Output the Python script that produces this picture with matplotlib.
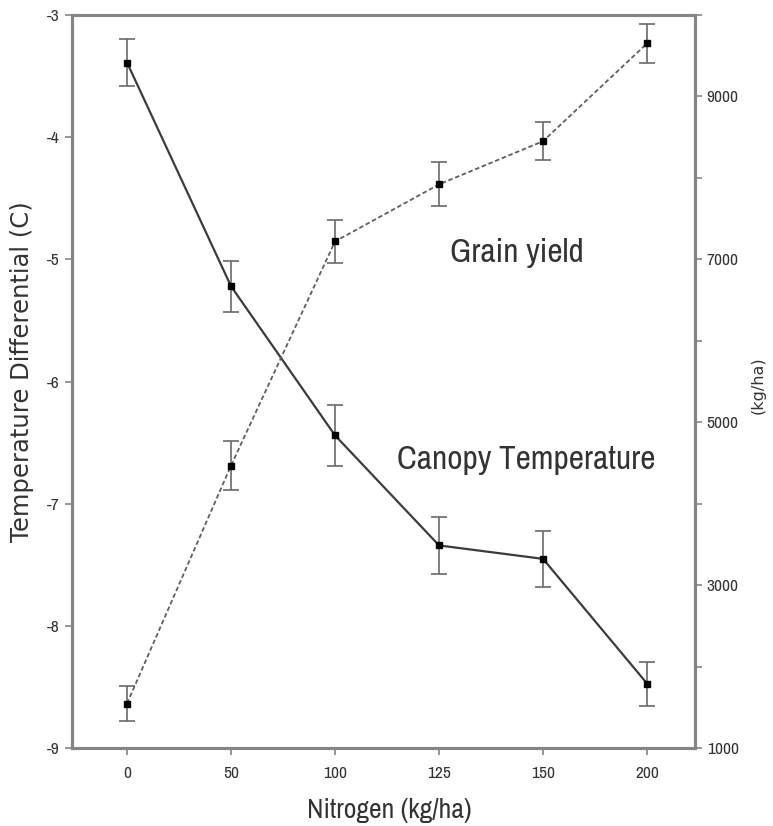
import matplotlib
matplotlib.use("Agg")
import matplotlib.pyplot as plt

plt.rcParams["font.family"] = ["Archivo Narrow", "DejaVu Sans"]
plt.rcParams["axes.unicode_minus"] = False

# data
nitrogen = ["0", "50", "100", "125", "150", "200"]
canopy_temp = [-3.39, -5.22, -6.44, -7.34, -7.45, -8.47]
canopy_err = [0.19, 0.21, 0.25, 0.23, 0.23, 0.18]
grain_yield = [1550, 4470, 7220, 7920, 8450, 9650]
grain_err = [220, 300, 260, 270, 230, 240]

fig = plt.figure(figsize=(7.73, 8.26), dpi=100)
ax = fig.add_axes([0.093, 0.094, 0.806, 0.888])
ax2 = ax.twinx()

x = range(len(nitrogen))
text_col = "#333333"
spine_col = "#858585"

ax.errorbar(x, canopy_temp, yerr=canopy_err, color="#3c3c3c", lw=1.6,
            marker="s", ms=4, mfc="black", mec="black",
            ecolor="#6a6a6a", elinewidth=1.2, capsize=5.5, capthick=1.2)
ax2.errorbar(x, grain_yield, yerr=grain_err, color="#5e5e5e", lw=1.3,
             ls=(0, (2.5, 1.5)), marker="s", ms=5, mfc="black", mec="black",
             ecolor="#6a6a6a", elinewidth=1.2, capsize=5.5, capthick=1.2)

ax.set_xlim(-0.53, 5.46)
ax.set_ylim(-9, -3)
ax2.set_ylim(1000, 10000)

ax.set_xticks(list(x))
ax.set_xticklabels(nitrogen)
ax.set_yticks(range(-9, -2))
ax2.set_yticks(range(1000, 10001, 1000))
ax2.set_yticklabels([str(v) if (v // 1000) % 2 == 1 else "" for v in range(1000, 10001, 1000)])

for a in (ax, ax2):
    for s in a.spines.values():
        s.set_color(spine_col)
        s.set_linewidth(2.2)
    a.tick_params(colors=text_col, labelsize=12.5, length=5, width=1.2, direction="out")
    a.tick_params(color=spine_col)
ax.tick_params(axis="x", pad=8)

ax.set_xlabel("Nitrogen (kg/ha)", fontsize=20, color=text_col)
ax.xaxis.set_label_coords(0.51, -0.068)
ax.set_ylabel("Temperature Differential (C)", fontsize=17.5, color=text_col,
              family="DejaVu Sans")
ax.yaxis.set_label_coords(-0.061, 0.514)
ax2.set_ylabel("(kg/ha)", fontsize=11.5, color=text_col, family="DejaVu Sans")
ax2.yaxis.set_label_coords(1.09, 0.495)

ax.text(0.714, 0.675, "Grain yield", transform=ax.transAxes, ha="center", va="center",
        fontsize=24, color=text_col)
ax.text(0.522, 0.393, "Canopy Temperature", transform=ax.transAxes, ha="left", va="center",
        fontsize=24, color=text_col)

fig.savefig("out.png", dpi=100)
